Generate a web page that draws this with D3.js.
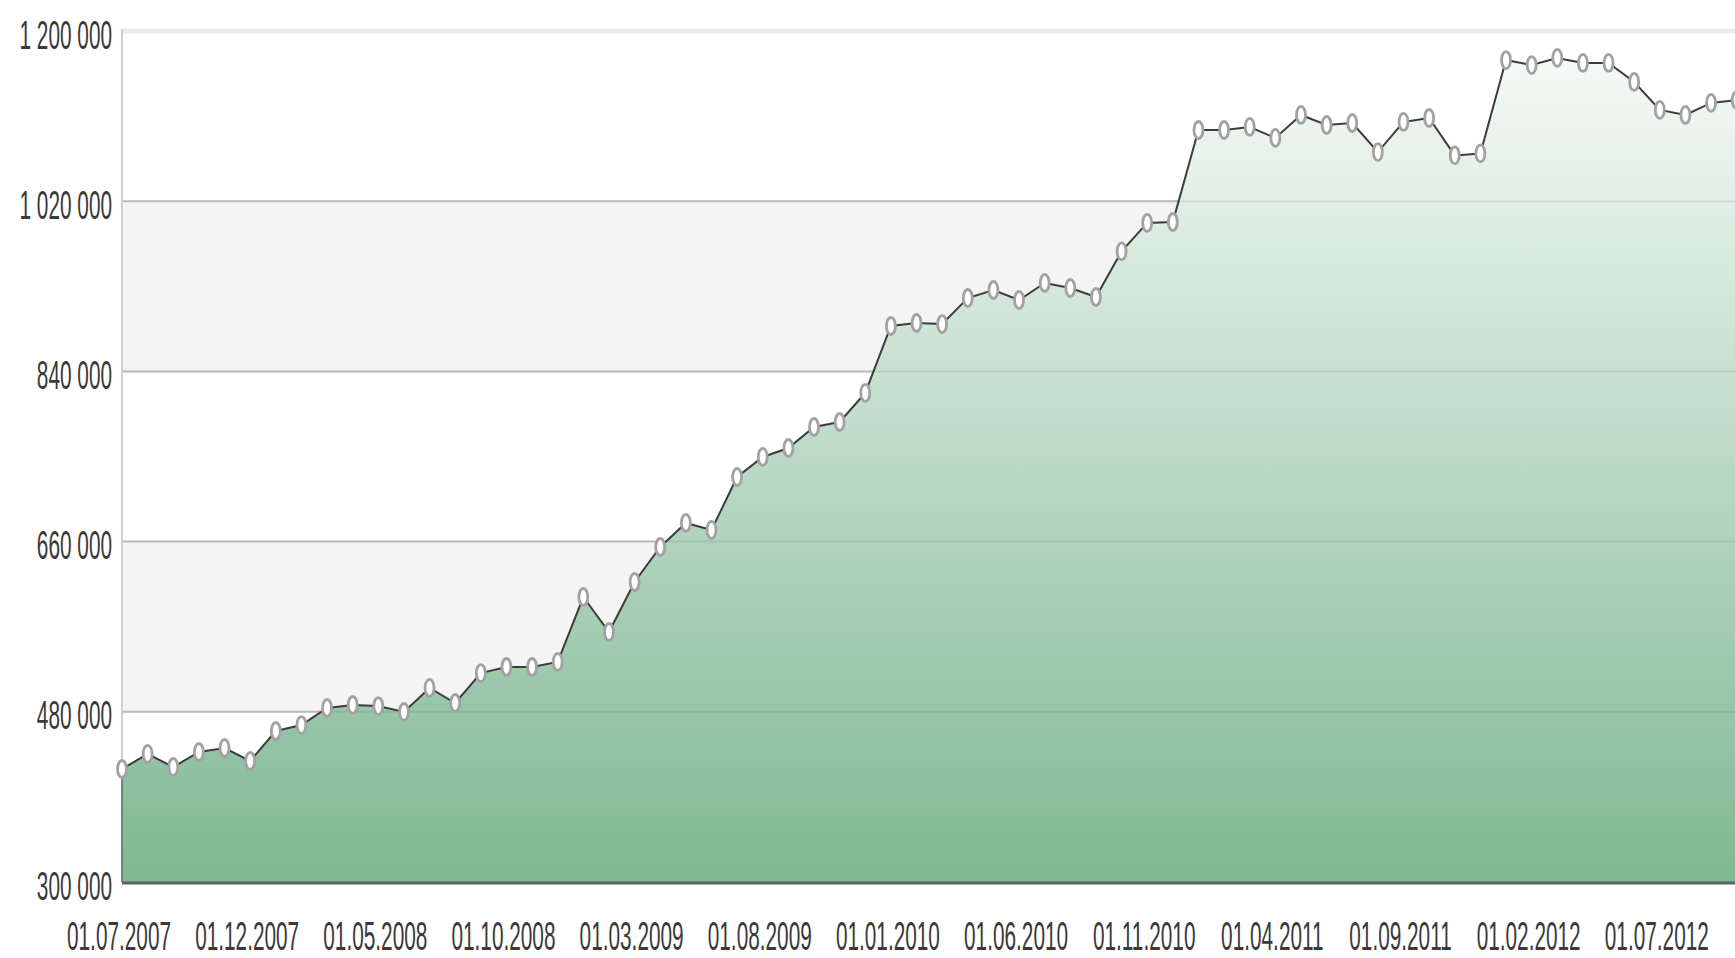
<!DOCTYPE html>
<html>
<head>
<meta charset="utf-8">
<script src="https://cdn.jsdelivr.net/npm/d3@7"></script>
<style>
  html, body { margin: 0; padding: 0; background: #fff; overflow: hidden; }
  #myDiv svg { display: block; }
</style>
</head>
<body>
<div id="myDiv"></div>
<script>
var months = ["2007-07", "2007-08", "2007-09", "2007-10", "2007-11", "2007-12",
    "2008-01", "2008-02", "2008-03", "2008-04", "2008-05", "2008-06", "2008-07", "2008-08", "2008-09", "2008-10", "2008-11", "2008-12",
    "2009-01", "2009-02", "2009-03", "2009-04", "2009-05", "2009-06", "2009-07", "2009-08", "2009-09", "2009-10", "2009-11", "2009-12",
    "2010-01", "2010-02", "2010-03", "2010-04", "2010-05", "2010-06", "2010-07", "2010-08", "2010-09", "2010-10", "2010-11", "2010-12",
    "2011-01", "2011-02", "2011-03", "2011-04", "2011-05", "2011-06", "2011-07", "2011-08", "2011-09", "2011-10", "2011-11", "2011-12",
    "2012-01", "2012-02", "2012-03", "2012-04", "2012-05", "2012-06", "2012-07", "2012-08", "2012-09", "2012-10"];

var values = [419500, 435400, 421600, 437500, 441700, 428000,
    459700, 466000, 484000, 487200, 486100, 479800, 505200, 489300, 521000, 527400, 527400, 532700,
    601400, 564400, 617300, 654300, 679700, 672300, 728300, 749500, 759000, 781200, 786500, 817200,
    888000, 891200, 890100, 917600, 926100, 915500, 933500, 928200, 918700, 967000, 997000, 998000,
    1095300, 1095300, 1098500, 1086900, 1111200, 1100600, 1102700, 1072000, 1103800, 1108000, 1068400, 1070500,
    1169300, 1164000, 1171500, 1166200, 1166200, 1146100, 1116500, 1111200, 1123900, 1127000];

var tick_months = ["2007-07", "2007-12", "2008-05", "2008-10", "2009-03", "2009-08", "2010-01", "2010-06", "2010-11", "2011-04", "2011-09", "2012-02", "2012-07"];
var tick_labels = ["01.07.2007", "01.12.2007", "01.05.2008", "01.10.2008", "01.03.2009", "01.08.2009", "01.01.2010", "01.06.2010", "01.11.2010", "01.04.2011", "01.09.2011", "01.02.2012", "01.07.2012"];

var y_ticks = [300000, 480000, 660000, 840000, 1020000, 1200000];


var width = 1735, height = 958;
var plotLeft = 122, plotTop = 31, plotBottom = 882, plotRight = 122 + 63 * 25.63;
var sx = 0.52, fontSize = 40;

var x = d3.scalePoint().domain(months).range([plotLeft, plotRight]);
var y = d3.scaleLinear().domain([300000, 1200000]).range([plotBottom, plotTop]);

var fmt = d3.formatLocale({ decimal: ",", thousands: " ", grouping: [3], currency: ["", ""] }).format(",");

var svg = d3.select("#myDiv").append("svg").attr("width", width).attr("height", height);

var defs = svg.append("defs");
var grad = defs.append("linearGradient").attr("id", "areaFill")
    .attr("gradientUnits", "userSpaceOnUse")
    .attr("x1", 0).attr("y1", 40).attr("x2", 0).attr("y2", plotBottom);
grad.append("stop").attr("offset", "0%").attr("stop-color", "#f7fbf8");
grad.append("stop").attr("offset", "100%").attr("stop-color", "#7fb894");

// alternating bands
var bands = [];
for (var i = 0; i < y_ticks.length - 1; i++) bands.push([y_ticks[i], y_ticks[i + 1], i]);
svg.append("g").selectAll("rect").data(bands).enter().append("rect")
    .attr("x", plotLeft).attr("width", width - plotLeft)
    .attr("y", function(d) { return y(d[1]); })
    .attr("height", function(d) { return y(d[0]) - y(d[1]); })
    .attr("fill", function(d) { return d[2] % 2 == 1 ? "#f4f4f4" : "#ffffff"; });

var grid = svg.append("g");
grid.selectAll("line").data(y_ticks.slice(1)).enter().append("line")
    .attr("x1", plotLeft).attr("x2", width)
    .attr("y1", function(d) { return y(d); }).attr("y2", function(d) { return y(d); })
    .attr("stroke", function(d) { return d == 1200000 ? "#ebebeb" : "#c6c6c6"; })
    .attr("stroke-width", function(d) { return d == 1200000 ? 5 : 2; });

var area = d3.area()
    .x(function(d, i) { return x(months[i]); })
    .y0(plotBottom)
    .y1(function(d) { return y(d); });

svg.append("path").datum(values).attr("d", area).attr("fill", "url(#areaFill)");

// gridlines faintly visible through the fill
svg.append("g").selectAll("line").data(y_ticks.slice(1, -1)).enter().append("line")
    .attr("x1", plotLeft).attr("x2", width)
    .attr("y1", function(d) { return y(d); }).attr("y2", function(d) { return y(d); })
    .attr("stroke", "rgba(0,0,0,0.07)").attr("stroke-width", 2);

svg.append("line").attr("x1", plotLeft).attr("x2", plotLeft).attr("y1", plotTop - 2).attr("y2", plotBottom)
    .attr("stroke", "#cfcfcf").attr("stroke-width", 2);
svg.append("line").attr("x1", plotLeft).attr("x2", plotLeft).attr("y1", y(values[0])).attr("y2", plotBottom)
    .attr("stroke", "#6f8575").attr("stroke-width", 2);

var line = d3.line()
    .x(function(d, i) { return x(months[i]); })
    .y(function(d) { return y(d); });

svg.append("path").datum(values).attr("d", line)
    .attr("fill", "none").attr("stroke", "#3c3c3c").attr("stroke-width", 2);

svg.append("g").selectAll("ellipse").data(values).enter().append("ellipse")
    .attr("cx", function(d, i) { return x(months[i]); })
    .attr("cy", function(d) { return y(d); })
    .attr("rx", 4.5).attr("ry", 8.5)
    .attr("fill", "#ffffff").attr("stroke", "#a2a2a2").attr("stroke-width", 2.8);

svg.append("line").attr("x1", plotLeft).attr("x2", width).attr("y1", plotBottom + 1).attr("y2", plotBottom + 1)
    .attr("stroke", "#5c655f").attr("stroke-width", 3);

var yAxis = svg.append("g").attr("transform", "translate(" + plotLeft + ",0)")
    .call(d3.axisLeft(y).tickValues(y_ticks).tickSize(0).tickFormat(fmt));
yAxis.select(".domain").remove();
yAxis.selectAll("text")
    .attr("x", -10 / sx).attr("y", 3).attr("dy", "0.35em")
    .attr("transform", "scale(" + sx + ",1)")
    .style("font-family", "'Liberation Sans', Arial, sans-serif")
    .style("font-size", fontSize + "px").style("fill", "#3a3a3a");

var xAxis = svg.append("g").attr("transform", "translate(0," + plotBottom + ")")
    .call(d3.axisBottom(x).tickValues(tick_months).tickSize(0)
        .tickFormat(function(d, i) { return tick_labels[i]; }));
xAxis.select(".domain").remove();
xAxis.selectAll("text")
    .attr("x", -3.5 / sx).attr("y", 68).attr("dy", 0)
    .attr("transform", "scale(" + sx + ",1)")
    .style("font-family", "'Liberation Sans', Arial, sans-serif")
    .style("font-size", fontSize + "px").style("fill", "#3a3a3a");
</script>
</body>
</html>
